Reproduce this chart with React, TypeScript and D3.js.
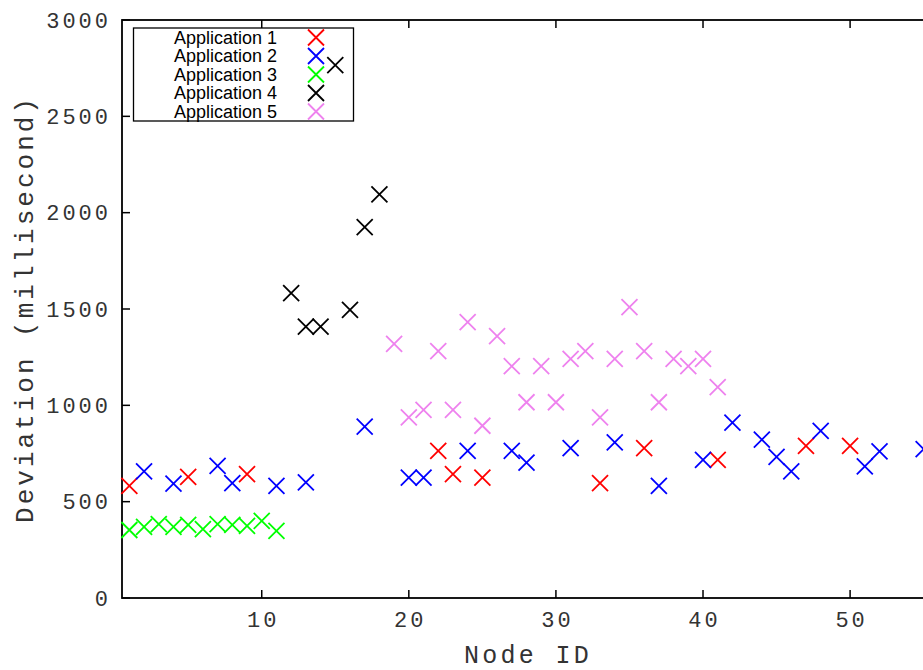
import React from "react";
import * as d3 from "d3";

// Node IDs and measured deviation (ms) per application
const app1Nodes = [1, 5, 9, 22, 23, 25, 33, 36, 41, 47, 50];
const app1Values = [582, 629, 643, 764, 643, 625, 596, 778, 717, 790, 790];

const app2Nodes = [2, 4, 7, 8, 11, 13, 17, 20, 21, 24, 27, 28, 31, 34, 37, 40, 42, 44, 45, 46, 48, 51, 52, 55];
const app2Values = [657, 594, 686, 596, 582, 600, 889, 625, 625, 764, 764, 703, 778, 808, 582, 717, 910, 822, 733, 657, 868, 683, 761, 773];

const app3Nodes = [1, 2, 3, 4, 5, 6, 7, 8, 9, 10, 11];
const app3Values = [353, 369, 383, 369, 380, 357, 383, 380, 374, 400, 348];

const app4Nodes = [12, 13, 14, 15, 16, 17, 18];
const app4Values = [1582, 1409, 1409, 2766, 1496, 1925, 2095];

const app5Nodes = [19, 20, 21, 22, 23, 24, 25, 26, 27, 28, 29, 30, 31, 32, 33, 34, 35, 36, 37, 38, 39, 40, 41];
const app5Values = [1319, 937, 976, 1281, 976, 1432, 894, 1359, 1203, 1016, 1203, 1016, 1241, 1281, 937, 1241, 1510, 1281, 1016, 1241, 1203, 1241, 1094];

const seriesNames = ["Application 1", "Application 2", "Application 3", "Application 4", "Application 5"];
const seriesColors = ["#ff0000", "#0000ff", "#00ff00", "#000000", "#ee82ee"];

const xTicks = [10, 20, 30, 40, 50];
const yTicks = [0, 500, 1000, 1500, 2000, 2500, 3000];

const W = 923;
const H = 670;
const left = 122;
const right = 931;
const top = 20;
const bottom = 598;

const x = d3.scaleLinear().domain([0.5, 55.5]).range([left, right]);
const y = d3.scaleLinear().domain([0, 3000]).range([bottom, top]);

const monoFont = "'Courier New', 'Liberation Mono', monospace";
const sansFont = "'Liberation Sans', Arial, sans-serif";

function Cross({ cx, cy, color }: { cx: number; cy: number; color: string }) {
  const s = 8;
  const path = d3.path();
  path.moveTo(cx - s, cy - s);
  path.lineTo(cx + s, cy + s);
  path.moveTo(cx - s, cy + s);
  path.lineTo(cx + s, cy - s);
  return <path d={path.toString()} stroke={color} strokeWidth={1.8} fill="none" />;
}

export default function App() {
  const series = [
    { nodes: app1Nodes, values: app1Values },
    { nodes: app2Nodes, values: app2Values },
    { nodes: app3Nodes, values: app3Values },
    { nodes: app4Nodes, values: app4Values },
    { nodes: app5Nodes, values: app5Values },
  ];
  const tickLen = 8;
  const legendRowY = (i: number) => 37.5 + i * 18.5;

  return (
    <svg
      width={W}
      height={H}
      style={{ position: "absolute", left: 0, top: 0, background: "#fff" }}
    >
      <rect x={0} y={0} width={W} height={H} fill="#fff" />

      {/* y ticks, mirrored on the right border */}
      {yTicks.map((t) => (
        <g key={"y" + t}>
          <line x1={left} x2={left + tickLen} y1={y(t)} y2={y(t)} stroke="#000" strokeWidth={1.5} />
          <line x1={right} x2={right - tickLen} y1={y(t)} y2={y(t)} stroke="#000" strokeWidth={1.5} />
          <text
            x={111}
            y={y(t) + 7.5}
            textAnchor="end"
            fontFamily={monoFont}
            fontSize={22}
            letterSpacing={3}
            fill="#333"
          >
            {t}
          </text>
        </g>
      ))}

      {/* x ticks, mirrored on the top border */}
      {xTicks.map((t) => (
        <g key={"x" + t}>
          <line x1={x(t)} x2={x(t)} y1={bottom} y2={bottom - tickLen} stroke="#000" strokeWidth={1.5} />
          <line x1={x(t)} x2={x(t)} y1={top} y2={top + tickLen} stroke="#000" strokeWidth={1.5} />
          <text
            x={x(t) + 1.5}
            y={627}
            textAnchor="middle"
            fontFamily={monoFont}
            fontSize={22}
            letterSpacing={3}
            fill="#333"
          >
            {t}
          </text>
        </g>
      ))}

      {/* plot border */}
      <rect x={left} y={top} width={right - left} height={bottom - top} fill="none" stroke="#000" strokeWidth={1.8} />

      {/* axis titles */}
      <text
        transform={`translate(33, ${(top + bottom) / 2}) rotate(-90)`}
        textAnchor="middle"
        fontFamily={monoFont}
        fontSize={26}
        letterSpacing={3}
        fill="#333"
      >
        Deviation (millisecond)
      </text>
      <text
        x={(left + right) / 2 + 1.5}
        y={663}
        textAnchor="middle"
        fontFamily={monoFont}
        fontSize={25}
        letterSpacing={3.3}
        fill="#333"
      >
        Node ID
      </text>

      {/* legend */}
      <rect x={133.5} y={28} width={220} height={93} fill="#fff" stroke="#000" strokeWidth={1.3} />
      {seriesNames.map((name, i) => (
        <g key={name}>
          <text
            x={277}
            y={legendRowY(i) + 6}
            textAnchor="end"
            fontFamily={sansFont}
            fontSize={18}
            fill="#000"
          >
            {name}
          </text>
          <Cross cx={316} cy={legendRowY(i)} color={seriesColors[i]} />
        </g>
      ))}

      {/* data points */}
      {series.map((s, si) => (
        <g key={"s" + si}>
          {s.nodes.map((n, j) => (
            <Cross key={n} cx={x(n)} cy={y(s.values[j])} color={seriesColors[si]} />
          ))}
        </g>
      ))}
    </svg>
  );
}
